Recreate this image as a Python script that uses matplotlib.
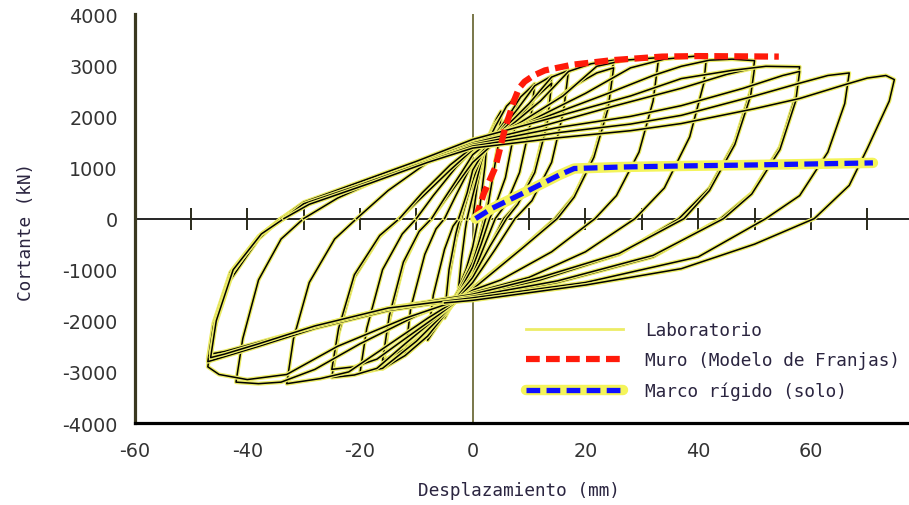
import matplotlib
matplotlib.use("Agg")
import matplotlib.pyplot as plt
import matplotlib.patheffects as pe
from matplotlib.legend_handler import HandlerTuple
from matplotlib.lines import Line2D

plt.rcParams["axes.unicode_minus"] = False

# Ensayo de laboratorio: ciclos de histéresis (desplazamiento en mm, cortante en kN)
ciclo_01 = [(0, 0), (0.8, 650), (1.8, 1200), (2.5, 1500), (2.2, 1050), (1.4, 350), (1.0, 0),
            (0, -550), (-1.2, -1000), (-2.5, -1350), (-2.0, -800), (-1.3, -200), (-1.0, 0)]
ciclo_02 = [(-1.0, 0), (0, 450), (1.5, 1100), (3.0, 1650), (4.2, 1950), (5.0, 2100), (4.6, 1500),
            (3.0, 500), (2.0, 0), (1.0, -450), (0, -800), (-2.0, -1300), (-3.6, -1650), (-5.0, -1950),
            (-4.3, -1200), (-3.0, -400), (-2.0, 0)]
ciclo_03 = [(-2.0, 0), (-1.0, 400), (0, 750), (2.0, 1350), (4.0, 1850), (5.0, 2000), (4.4, 1350),
            (3.0, 450), (2.3, 0), (1.0, -500), (0, -850), (-2.5, -1400), (-4.5, -1800), (-5.0, -1880),
            (-4.2, -1000), (-3.0, -300), (-2.3, 0)]
ciclo_04 = [(-2.3, 0), (-1.2, 450), (0, 900), (2.0, 1350), (4.0, 1800), (6.0, 2200), (8.0, 2420),
            (7.3, 1650), (5.8, 800), (4.0, 250), (3.0, 0), (1.5, -500), (0, -950), (-3.0, -1550),
            (-6.0, -2050), (-8.0, -2380), (-7.0, -1500), (-5.0, -600), (-3.5, -150), (-2.5, 0)]
ciclo_05 = [(-2.5, 0), (-1.0, 500), (0, 950), (3.0, 1500), (6.0, 1950), (8.5, 2380), (11.0, 2640),
            (10.2, 1850), (8.3, 900), (6.0, 300), (4.0, 0), (2.0, -550), (0, -1100), (-4.0, -1700),
            (-8.0, -2300), (-12.0, -2680), (-11.0, -1750), (-8.5, -700), (-6.5, -200), (-5.0, 0)]
ciclo_06 = [(-5.0, 0), (-3.0, 450), (0, 1100), (4.0, 1600), (8.0, 2150), (11.0, 2600), (14.0, 2790),
            (13.2, 1950), (11.0, 950), (8.0, 300), (5.5, 0), (3.0, -550), (0, -1150), (-4.0, -1750),
            (-8.0, -2300), (-12.0, -2680), (-16.0, -2940), (-14.8, -2000), (-12.3, -900),
            (-9.5, -250), (-7.3, 0)]
ciclo_07 = [(-7.3, 0), (-5.0, 350), (-2.0, 800), (0, 1100), (4.0, 1500), (8.0, 1950), (11.0, 2350),
            (14.0, 2650), (13.2, 1850), (11.0, 900), (8.0, 280), (6.0, 0), (3.0, -550), (0, -1150),
            (-4.0, -1700), (-8.0, -2200), (-12.0, -2550), (-16.0, -2780), (-14.8, -1900),
            (-12.3, -850), (-9.5, -250), (-7.3, 0)]
ciclo_08 = [(-7.3, 0), (-5.0, 400), (-2.0, 900), (0, 1250), (5.0, 1700), (10.0, 2250), (14.0, 2770),
            (17.0, 2900), (16.1, 2100), (14.0, 1100), (10.5, 350), (7.5, 0), (4.0, -600), (0, -1250),
            (-5.0, -1850), (-10.0, -2400), (-16.0, -2930), (-20.0, -3020), (-18.8, -2150),
            (-16.0, -1000), (-12.5, -300), (-10.0, 0)]
ciclo_09 = [(-10.0, 0), (-7.0, 450), (-3.0, 1000), (0, 1350), (6.0, 1750), (12.0, 2300), (17.0, 2880),
            (21.0, 3030), (25.0, 3100), (24.0, 2250), (21.5, 1250), (18.0, 450), (14.6, 0),
            (9.0, -550), (0, -1350), (-6.0, -1900), (-12.0, -2450), (-17.0, -2930), (-21.0, -3060),
            (-25.0, -3110), (-23.8, -2250), (-21.0, -1150), (-16.5, -350), (-13.0, 0)]
ciclo_10 = [(-13.0, 0), (-9.0, 420), (-4.0, 950), (0, 1350), (6.0, 1700), (12.0, 2100), (18.0, 2600),
            (22.0, 2850), (25.0, 2950), (24.0, 2150), (21.5, 1200), (18.0, 420), (15.0, 0),
            (9.0, -560), (0, -1380), (-6.0, -1880), (-12.0, -2350), (-17.0, -2750), (-21.0, -2900),
            (-25.0, -2950), (-23.8, -2150), (-21.0, -1100), (-16.5, -330), (-13.0, 0)]
ciclo_11 = [(-13.0, 0), (-9.0, 500), (-4.0, 1050), (0, 1400), (8.0, 1850), (16.0, 2400), (22.0, 2980),
            (27.0, 3100), (33.0, 3150), (32.0, 2300), (29.5, 1300), (25.5, 450), (21.7, 0),
            (14.0, -650), (5.0, -1200), (0, -1400), (-8.0, -1950), (-16.0, -2550), (-22.0, -3000),
            (-27.0, -3130), (-33.0, -3230), (-31.8, -2350), (-29.0, -1250), (-24.5, -400), (-20.6, 0)]
ciclo_12 = [(-20.6, 0), (-15.0, 550), (-8.0, 1100), (0, 1450), (10.0, 1900), (20.0, 2450),
            (28.0, 2950), (34.0, 3120), (41.5, 3200), (41.0, 2650), (38.5, 1600), (34.0, 600),
            (28.8, 0), (20.0, -650), (10.0, -1150), (0, -1450), (-10.0, -1900), (-20.0, -2450),
            (-28.0, -2950), (-34.0, -3200), (-38.0, -3230), (-42.0, -3200), (-40.8, -2350),
            (-38.0, -1200), (-34.0, -400), (-30.0, 0)]
ciclo_13 = [(-30.0, 0), (-24.0, 400), (-12.0, 1000), (0, 1500), (12.0, 1950), (24.0, 2450),
            (32.0, 2800), (37.0, 2980), (42.0, 3100), (46.0, 3120), (50.0, 3090), (49.3, 2500),
            (46.5, 1500), (42.0, 600), (36.6, 0), (26.0, -700), (12.0, -1200), (0, -1500),
            (-12.0, -1950), (-24.0, -2500), (-33.0, -3050), (-40.0, -3150), (-45.0, -3050),
            (-47.0, -2900), (-46.0, -2200), (-43.0, -1200), (-38.0, -400), (-34.0, 0)]
ciclo_14 = [(-34.0, 0), (-30.0, 300), (-20.0, 680), (-10.0, 1080), (0, 1480), (12.0, 1800),
            (25.0, 2200), (37.0, 2550), (45.0, 2820), (50.0, 2950), (49.3, 2400), (46.5, 1450),
            (42.0, 550), (37.5, 0), (26.0, -680), (12.0, -1150), (0, -1480), (-15.0, -1750),
            (-28.0, -2100), (-38.0, -2450), (-44.0, -2650), (-47.0, -2750), (-46.0, -2050),
            (-43.0, -1050), (-38.0, -350), (-34.0, 0)]
ciclo_15 = [(-34.0, 0), (-30.0, 320), (-20.0, 720), (-10.0, 1120), (0, 1550), (15.0, 2000),
            (28.0, 2400), (37.0, 2740), (46.0, 2900), (52.0, 2980), (58.0, 2970), (57.3, 2400),
            (54.5, 1400), (49.5, 500), (44.0, 0), (32.0, -750), (15.0, -1250), (0, -1550),
            (-15.0, -1800), (-28.0, -2150), (-38.0, -2500), (-44.0, -2700), (-47.0, -2800),
            (-46.0, -2100), (-43.0, -1100), (-38.0, -350), (-34.0, 0)]
ciclo_16 = [(-34.0, 0), (-30.0, 260), (-20.0, 640), (-10.0, 1040), (0, 1450), (15.0, 1780),
            (28.0, 2000), (37.0, 2210), (48.0, 2550), (55.0, 2800), (58.0, 2880), (57.3, 2300),
            (54.5, 1350), (49.5, 480), (44.5, 0), (32.0, -720), (15.0, -1220), (0, -1520),
            (-15.0, -1770), (-28.0, -2120), (-38.0, -2420), (-44.0, -2600), (-46.5, -2650),
            (-45.5, -1950), (-42.5, -1000), (-37.5, -300), (-33.5, 0)]
ciclo_17 = [(-33.5, 0), (-30.0, 290), (-20.0, 660), (-10.0, 1050), (0, 1420), (15.0, 1680),
            (28.0, 1850), (37.0, 2020), (50.0, 2400), (58.0, 2650), (63.0, 2800), (66.8, 2850),
            (66.0, 2250), (63.0, 1300), (58.0, 450), (52.0, 0), (40.0, -750), (20.0, -1250),
            (0, -1550), (-15.0, -1750), (-28.0, -2100), (-38.0, -2450), (-44.0, -2650),
            (-46.5, -2720), (-45.5, -2000), (-42.5, -1000), (-37.5, -300), (-33.5, 0)]
ciclo_18 = [(-33.5, 0), (-29.0, 280), (-18.0, 700), (-8.0, 1100), (0, 1380), (15.0, 1580),
            (28.0, 1720), (37.0, 1860), (50.0, 2150), (58.0, 2350), (66.0, 2620), (70.0, 2750),
            (73.3, 2800), (74.8, 2720), (73.9, 2300), (70.0, 1370), (66.8, 650), (60.6, 0),
            (50.0, -500), (37.0, -980), (20.0, -1300), (0, -1600), (-5.0, -1650)]

ciclos_lab = [ciclo_01, ciclo_02, ciclo_03, ciclo_04, ciclo_05, ciclo_06, ciclo_07, ciclo_08,
              ciclo_09, ciclo_10, ciclo_11, ciclo_12, ciclo_13, ciclo_14, ciclo_15, ciclo_16,
              ciclo_17, ciclo_18]

# Modelo de franjas del muro
muro_desp = [0.5, 2.0, 4.0, 5.7, 7.3, 8.2, 9.2, 10.8, 12.8, 17.6, 24.7, 33.6, 40.0, 54.3]
muro_cort = [0, 500, 1000, 1750, 2300, 2550, 2680, 2800, 2900, 3010, 3100, 3170, 3180, 3170]

# Marco rígido sin muro
marco_desp = [0.5, 3.4, 9.9, 15.3, 18.0, 26.5, 37.0, 50.0, 71.0]
marco_cort = [0, 200, 550, 850, 980, 1010, 1030, 1050, 1090]

x_ticks = [-60, -40, -20, 0, 20, 40, 60]
y_ticks = [-4000, -3000, -2000, -1000, 0, 1000, 2000, 3000, 4000]
marcas_eje = [-50, -40, -30, -20, -10, 10, 20, 30, 40, 50, 60, 70]

etiquetas = ["Laboratorio", "Muro (Modelo de Franjas)", "Marco rígido (solo)"]

AMARILLO = "#ecec66"
OLIVA = "#6e6c3a"
TEXTO = "#2b2540"
MONO = ["DejaVu Sans Mono"]

fig = plt.figure(figsize=(9.09, 5.06), dpi=100)
ax = fig.add_axes([0.148, 0.162, 0.852, 0.808])
ax.set_xlim(-60, 77.4)
ax.set_ylim(-4000, 4000)

# Ejes en cero
ax.axhline(0, color="black", lw=1.2, zorder=1)
ax.axvline(0, color=OLIVA, lw=1.3, zorder=1)
ax.plot(marcas_eje, [0] * len(marcas_eje), ls="none", marker="|", ms=16, mew=1.4,
        color="#2a2a1a", zorder=1)

# Curvas de laboratorio
for ciclo in ciclos_lab:
    xs = [p[0] for p in ciclo]
    fs = [p[1] for p in ciclo]
    ax.plot(xs, fs, color="black", lw=1.1, zorder=2, solid_joinstyle="round",
            path_effects=[pe.Stroke(linewidth=2.9, foreground=AMARILLO), pe.Normal()])

# Modelo del muro
ax.plot(muro_desp, muro_cort, color="#ff1a0a", lw=4.5, dashes=(2.2, 1.0),
        dash_capstyle="butt", zorder=4)

# Marco rígido: banda amarilla con trazos azules
ax.plot(marco_desp, marco_cort, color="#f4f45a", lw=7.5, solid_capstyle="round", zorder=5)
ax.plot(marco_desp, marco_cort, color="#1010ff", lw=3.8, dashes=(2.6, 1.2),
        dash_capstyle="butt", zorder=6)

# Ejes y rótulos
ax.spines["top"].set_visible(False)
ax.spines["right"].set_visible(False)
ax.spines["left"].set_color("#3a3820")
ax.spines["left"].set_linewidth(2.3)
ax.spines["bottom"].set_color("black")
ax.spines["bottom"].set_linewidth(2.3)
ax.set_xticks(x_ticks)
ax.set_yticks(y_ticks)
ax.tick_params(axis="both", length=0, labelsize=13.8, labelcolor="#333333")
ax.tick_params(axis="x", pad=13)
ax.tick_params(axis="y", pad=12)

ax.set_xlabel("Desplazamiento (mm)", family=MONO, fontsize=12.8, color=TEXTO)
ax.set_ylabel("Cortante (kN)", family=MONO, fontsize=12.8, color=TEXTO)
ax.xaxis.set_label_coords(0.496, -0.143)
ax.yaxis.set_label_coords(-0.129, 0.47)

h_lab = Line2D([], [], color=AMARILLO, lw=2.0)
h_muro = Line2D([], [], color="#ff1a0a", lw=4.5, dashes=(2.2, 1.0), dash_capstyle="butt")
h_marco_fondo = Line2D([], [], color="#f4f45a", lw=7.5, solid_capstyle="round")
h_marco = Line2D([], [], color="#1010ff", lw=3.8, dashes=(2.6, 1.2), dash_capstyle="butt")
leg = ax.legend([h_lab, h_muro, (h_marco_fondo, h_marco)], etiquetas,
                handler_map={tuple: HandlerTuple(ndivide=1, pad=0)},
                loc="upper left", bbox_to_anchor=(0.505, 0.25), frameon=False,
                prop={"family": MONO, "size": 12.8}, handlelength=5.45,
                handletextpad=1.25, labelspacing=0.69, borderpad=0, borderaxespad=0)
for t in leg.get_texts():
    t.set_color(TEXTO)

fig.savefig("out.png", dpi=100)
